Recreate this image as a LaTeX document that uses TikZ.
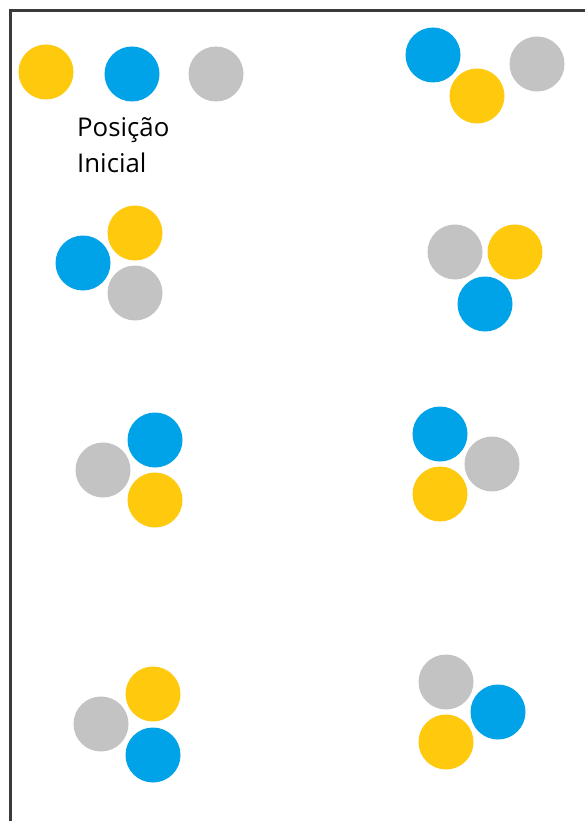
\documentclass[tikz,border=0pt]{standalone}
\usepackage{fontspec}
\setmainfont{Open Sans}
\definecolor{ballyellow}{HTML}{FFC90E}
\definecolor{ballblue}{HTML}{00A2E8}
\definecolor{ballgray}{HTML}{C3C3C3}
\definecolor{frame}{HTML}{3A3A3A}
\tikzset{
  ball/.style={circle, inner sep=0pt, minimum size=55pt, draw=none},
  yb/.style={ball, fill=ballyellow},
  bb/.style={ball, fill=ballblue},
  gb/.style={ball, fill=ballgray},
  lbl/.style={anchor=base west, inner sep=0pt, font=\fontsize{25.8}{30}\selectfont, text=black}
}
\begin{document}
\begin{tikzpicture}[x=1pt,y=-1pt]
\useasboundingbox (0,0) rectangle (585,821);
\fill[white] (0,0) rectangle (585,821);
% frame
\coordinate (fb) at (10.5,821);
\coordinate (fc) at (10.5,10.5);
\coordinate (fr) at (585,10.5);
\draw[frame, line width=2.3pt] (fb) -- (fc) -- (fr);
% initial position
\node[yb] (y0) at (46,72) {};
\node[bb] (b0) at (132,74) {};
\node[gb] (g0) at (216,74) {};
\node[lbl] (t1) at (77,137) {Posição};
\node[lbl] (t2) at (77,173) {Inicial};
% top right
\node[bb] (b1) at (433,55) {};
\node[yb] (y1) at (477,96) {};
\node[gb] (g1) at (537,64) {};
% row 2 left
\node[yb] (y2) at (135,233) {};
\node[bb] (b2) at (83,263) {};
\node[gb] (g2) at (135,293) {};
% row 2 right
\node[gb] (g3) at (455,252) {};
\node[yb] (y3) at (515,252) {};
\node[bb] (b3) at (485,304) {};
% row 3 left
\node[bb] (b4) at (155,440) {};
\node[gb] (g4) at (103,470) {};
\node[yb] (y4) at (155,500) {};
% row 3 right
\node[bb] (b5) at (440,434) {};
\node[gb] (g5) at (492,464) {};
\node[yb] (y5) at (440,494) {};
% row 4 left
\node[yb] (y6) at (153,694) {};
\node[gb] (g6) at (101,724) {};
\node[bb] (b6) at (153,755) {};
% row 4 right
\node[gb] (g7) at (446,682) {};
\node[bb] (b7) at (498,712) {};
\node[yb] (y7) at (446,742) {};
\end{tikzpicture}
\end{document}
